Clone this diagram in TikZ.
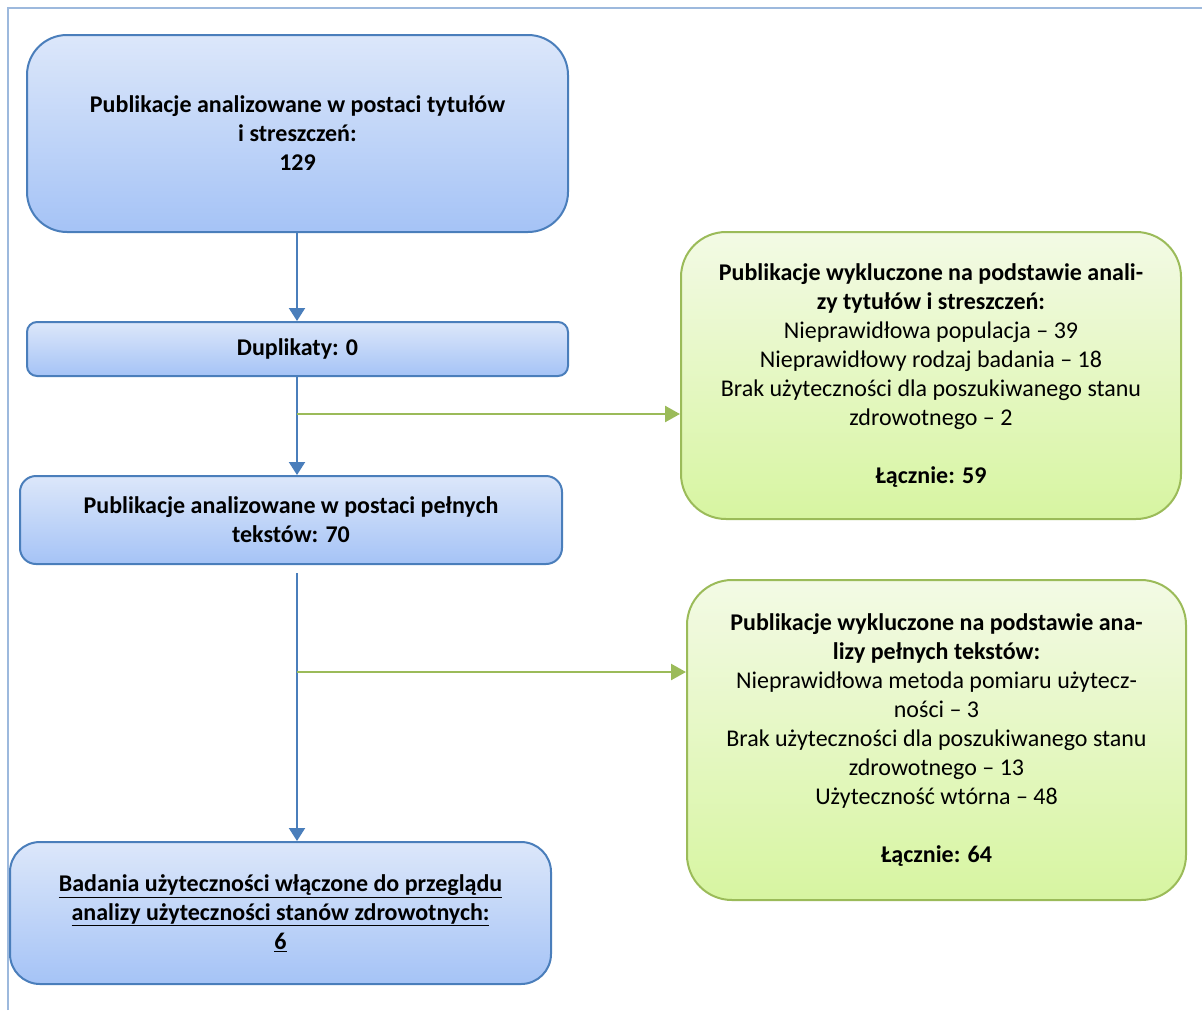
\documentclass[tikz,border=0pt]{standalone}
\usepackage{fontspec}
\setmainfont{Carlito}
\usetikzlibrary{arrows.meta}
\definecolor{bbord}{HTML}{4A7EBB}
\definecolor{btop}{HTML}{DCE7FA}
\definecolor{bbot}{HTML}{A5C3F6}
\definecolor{gbord}{HTML}{9BBB59}
\definecolor{gtop}{HTML}{F3FAE5}
\definecolor{gbot}{HTML}{D7F5A1}
\definecolor{frame}{HTML}{9DB9DD}
\begin{document}
\begin{tikzpicture}[x=1pt,y=-1pt,
  txt/.style={font=\fontsize{24}{29}\selectfont, align=center, text=black, inner sep=0pt},
  bluebox/.style={txt, draw=bbord, line width=2pt, top color=btop, bottom color=bbot},
  greenbox/.style={txt, draw=gbord, line width=2pt, top color=gtop, bottom color=gbot, rounded corners=45pt},
  bluearrow/.style={draw=bbord, line width=2pt, -{Triangle[width=16pt,length=13pt]}},
  greenarrow/.style={draw=gbord, line width=2.5pt, -{Triangle[width=16pt,length=15pt]}}
]
\useasboundingbox (0,0) rectangle (1202,1010);
\draw[frame, line width=1.5pt] (8,1010) -- (8,8) -- (1202,8);

\node[bluebox, rounded corners=40pt, minimum width=541pt, minimum height=197pt] (A) at (297.5,133.5)
  {\textbf{Publikacje analizowane w postaci tytułów}\\\textbf{i streszczeń:}\\\textbf{129}};
\node[bluebox, rounded corners=10pt, minimum width=541pt, minimum height=54pt] (B) at (297.5,349)
  {\textbf{Duplikaty: 0}};
\node[bluebox, rounded corners=16pt, minimum width=542pt, minimum height=88pt] (C) at (291,520)
  {\textbf{Publikacje analizowane w postaci pełnych}\\\textbf{tekstów: 70}};
\node[bluebox, rounded corners=30pt, minimum width=541pt, minimum height=142pt] (D) at (280.5,913)
  {\textbf{\underline{Badania użyteczności włączone do przeglądu}}\\\textbf{\underline{analizy użyteczności stanów zdrowotnych:}}\\\textbf{\underline{6}}};

\node[greenbox, minimum width=500pt, minimum height=287pt] (E) at (931,375.5)
  {\textbf{Publikacje wykluczone na podstawie anali-}\\\textbf{zy tytułów i streszczeń:}\\
   Nieprawidłowa populacja – 39\\Nieprawidłowy rodzaj badania – 18\\
   Brak użyteczności dla poszukiwanego stanu\\zdrowotnego – 2\\[29pt]\textbf{Łącznie: 59}};
\node[greenbox, minimum width=499pt, minimum height=320pt] (F) at (936.5,740)
  {\textbf{Publikacje wykluczone na podstawie ana-}\\\textbf{lizy pełnych tekstów:}\\
   Nieprawidłowa metoda pomiaru użytecz-\\ności – 3\\
   Brak użyteczności dla poszukiwanego stanu\\zdrowotnego – 13\\
   Użyteczność wtórna – 48\\[29pt]\textbf{Łącznie: 64}};

\coordinate (j1) at (297,414);
\coordinate (j2) at (297,672);

\draw[bluearrow] (A.south -| j1) -- (B.north -| j1);
\draw[bluearrow] (B.south -| j1) -- (C.north -| j1);
\draw[bluearrow] ([yshift=-8pt]C.south -| j1) -- (D.north -| j1);
\draw[greenarrow] (j1) -- (j1 -| E.west);
\draw[greenarrow] (j2) -- (j2 -| F.west);
\end{tikzpicture}
\end{document}
